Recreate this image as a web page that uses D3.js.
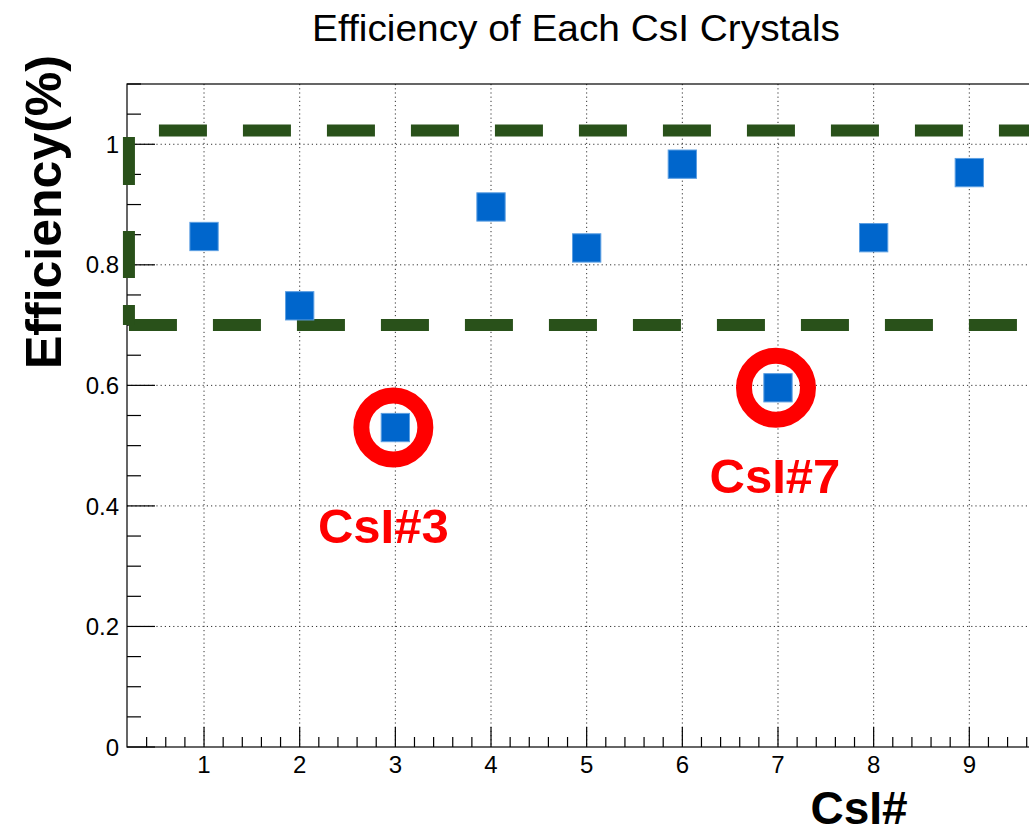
<!DOCTYPE html>
<html>
<head>
<meta charset="utf-8">
<script src="https://cdn.jsdelivr.net/npm/d3@7"></script>
<style>
  html, body { margin: 0; padding: 0; background: #fff; }
  svg { display: block; }
  text { font-family: "Liberation Sans", Arial, Helvetica, sans-serif; }
</style>
</head>
<body>
<svg id="chart" width="1029" height="835"></svg>
<script>
// Crystal numbers and measured efficiency of each CsI crystal
const crystals = [1, 2, 3, 4, 5, 6, 7, 8, 9];
const efficiency = [0.847, 0.732, 0.530, 0.896, 0.828, 0.967, 0.596, 0.845, 0.953];

// Axis ticks
const xTickValues = [1, 2, 3, 4, 5, 6, 7, 8, 9];
const yTickValues = [0, 0.2, 0.4, 0.6, 0.8, 1];

// Acceptance band (lower / upper efficiency) drawn as a dashed box
const bandLower = 0.70;
const bandUpper = 1.023;
const bandLeftX = 0.215;

// Crystals singled out below the band
const flaggedCrystals = [3, 7];
const flaggedLabels = ["CsI#3", "CsI#7"];

const titleText = "Efficiency of Each CsI Crystals";
const xTitle = "CsI#";
const yTitle = "Efficiency(%)";

(function draw() {
  const svg = d3.select("#chart");

  // Frame geometry
  const fLeft = 127, fTop = 84, fBottom = 747, fRight = 1141.5;

  const x = d3.scaleLinear().domain([0.2, 10.8]).range([127.5, fRight]);
  const y = d3.scaleLinear().domain([0, 1.1]).range([fBottom, fTop]);

  // Dotted grid
  const grid = svg.append("g").attr("stroke", "#333").attr("stroke-width", 1)
    .attr("stroke-dasharray", "1.2 3");
  grid.selectAll("line.v").data(xTickValues).join("line").attr("class", "v")
    .attr("x1", d => x(d)).attr("x2", d => x(d))
    .attr("y1", fTop).attr("y2", fBottom);
  grid.selectAll("line.h").data(yTickValues.filter(d => d > 0)).join("line").attr("class", "h")
    .attr("x1", fLeft).attr("x2", fRight)
    .attr("y1", d => y(d)).attr("y2", d => y(d));

  // Frame
  svg.append("rect").attr("x", fLeft).attr("y", fTop)
    .attr("width", fRight - fLeft).attr("height", fBottom - fTop)
    .attr("fill", "none").attr("stroke", "#000").attr("stroke-width", 1.2);

  // X axis: major ticks every 1, minor every 0.2
  const xMinor = d3.range(4, 109, 2).map(d => d / 10)
    .filter(d => Math.abs(d - Math.round(d)) > 1e-6);
  svg.append("g").attr("stroke", "#000").attr("stroke-width", 1.2)
    .selectAll("line").data(xMinor).join("line")
    .attr("x1", d => x(d)).attr("x2", d => x(d))
    .attr("y1", fBottom).attr("y2", fBottom - 10);
  svg.append("g").attr("stroke", "#000").attr("stroke-width", 1.2)
    .selectAll("line").data(d3.range(1, 11)).join("line")
    .attr("x1", d => x(d)).attr("x2", d => x(d))
    .attr("y1", fBottom).attr("y2", fBottom - 20);
  svg.append("g").selectAll("text").data(xTickValues).join("text")
    .attr("x", d => x(d)).attr("y", 773)
    .attr("text-anchor", "middle").attr("font-size", 24).attr("fill", "#000")
    .text(d => d);

  // Y axis: major ticks every 0.2, minor every 0.05
  const yMinor = d3.range(0, 23).map(d => d * 0.05)
    .filter(d => Math.abs(d * 5 - Math.round(d * 5)) > 1e-6);
  svg.append("g").attr("stroke", "#000").attr("stroke-width", 1.2)
    .selectAll("line").data(yMinor).join("line")
    .attr("x1", fLeft).attr("x2", fLeft + 14)
    .attr("y1", d => y(d)).attr("y2", d => y(d));
  svg.append("g").attr("stroke", "#000").attr("stroke-width", 1.2)
    .selectAll("line").data(yTickValues).join("line")
    .attr("x1", fLeft).attr("x2", fLeft + 28)
    .attr("y1", d => y(d)).attr("y2", d => y(d));
  svg.append("g").selectAll("text").data(yTickValues).join("text")
    .attr("x", 119).attr("y", d => y(d))
    .attr("dy", "0.36em")
    .attr("text-anchor", "end").attr("font-size", 24).attr("fill", "#000")
    .text(d => String(d));

  // Dashed acceptance box
  const bandColor = "#29511a";
  const band = svg.append("g").attr("stroke", bandColor).attr("stroke-width", 12).attr("fill", "none");
  band.append("line")
    .attr("x1", x(bandLeftX)).attr("x2", 1100)
    .attr("y1", y(bandUpper)).attr("y2", y(bandUpper))
    .attr("stroke-dasharray", "48 36").attr("stroke-dashoffset", 54);
  band.append("line")
    .attr("x1", x(bandLeftX)).attr("x2", 1100)
    .attr("y1", y(bandLower)).attr("y2", y(bandLower))
    .attr("stroke-dasharray", "48 36");
  band.append("line")
    .attr("x1", x(bandLeftX)).attr("x2", x(bandLeftX))
    .attr("y1", y(bandUpper)).attr("y2", y(bandLower))
    .attr("stroke-dasharray", "0 6.6 48 46 47 27 21 100");

  // Markers
  const size = 28.3;
  svg.append("g").selectAll("rect").data(crystals).join("rect")
    .attr("x", d => x(d) - size / 2)
    .attr("y", (d, i) => y(efficiency[i]) - size / 2)
    .attr("width", size).attr("height", size)
    .attr("fill", "#0066cc").attr("stroke", "#5c9fe2").attr("stroke-width", 1);

  // Red rings and labels on flagged crystals
  const labelShift = { "3": [-12, 115], "7": [-3, 105] };
  const flagged = svg.append("g");
  flaggedCrystals.forEach((c, k) => {
    const i = crystals.indexOf(c);
    const cx = x(c), cy = y(efficiency[i]);
    flagged.append("circle").attr("cx", cx - 2).attr("cy", cy)
      .attr("r", 32).attr("fill", "none").attr("stroke", "#ff0000").attr("stroke-width", 16);
    const [dx, dy] = labelShift[c];
    flagged.append("text").attr("x", cx + dx).attr("y", cy + dy)
      .attr("text-anchor", "middle").attr("font-size", 49).attr("font-weight", "bold")
      .attr("fill", "#ff0000").text(flaggedLabels[k]);
  });

  // Titles
  svg.append("text").attr("x", 576).attr("y", 41)
    .attr("text-anchor", "middle").attr("font-size", 36)
    .attr("textLength", 528).attr("lengthAdjust", "spacingAndGlyphs")
    .attr("fill", "#000").text(titleText);
  svg.append("text").attr("x", 859).attr("y", 824)
    .attr("text-anchor", "middle").attr("font-size", 46).attr("font-weight", "bold")
    .attr("fill", "#000").text(xTitle);
  svg.append("text")
    .attr("transform", "translate(61,212) rotate(-90)")
    .attr("text-anchor", "middle").attr("font-size", 50).attr("font-weight", "bold")
    .attr("fill", "#000").text(yTitle);
})();
</script>
</body>
</html>
